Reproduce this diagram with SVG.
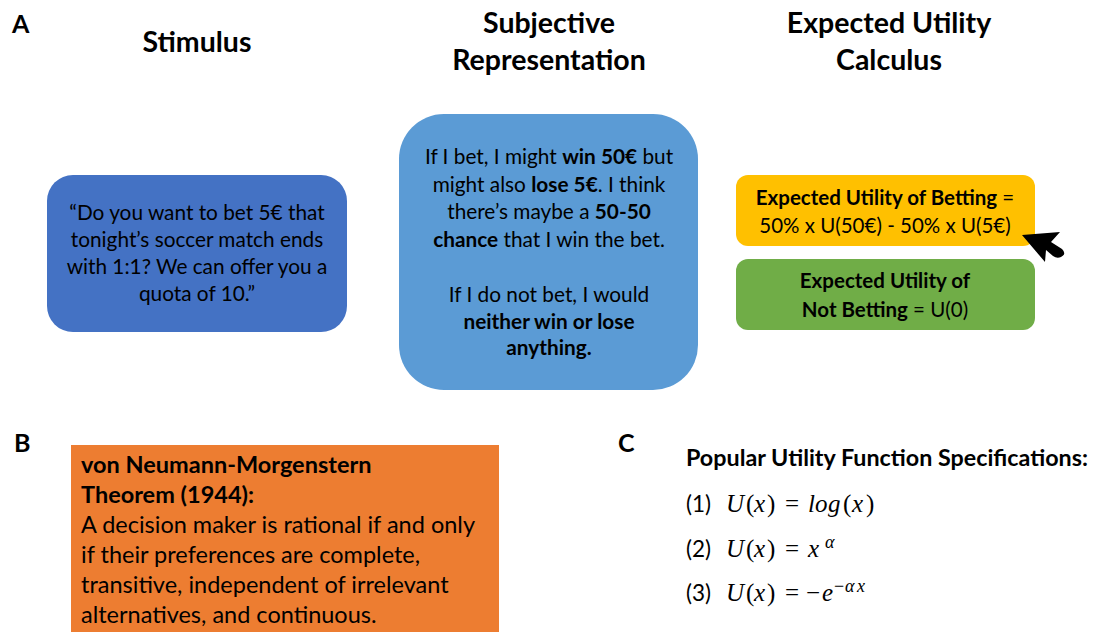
<svg xmlns="http://www.w3.org/2000/svg" width="1096" height="632" viewBox="0 0 1096 632">
<style>
.t{font-family:Lato,"Open Sans","Liberation Sans",sans-serif;fill:#000}
.h{font-weight:bold;font-size:28.5px;text-anchor:middle}
.lbl{font-weight:bold;font-size:25px}
.c{text-anchor:middle}
.b{font-weight:bold}
.box{font-size:20.8px}
.sm{font-size:20.5px}
.or{font-size:23.5px}
.num{font-size:22.5px}
.m{font-family:"Liberation Serif","DejaVu Serif",serif;font-size:25px;fill:#000}
.sup{font-size:18px}
.i{font-style:italic}
</style>
<rect width="1096" height="632" fill="#fff"/>
<g id="headers">
<text class="t lbl" x="12" y="33">A</text>
<text class="t h" x="197" y="52">Stimulus</text>
<text class="t h" x="549" y="33">Subjective</text>
<text class="t h" x="549" y="70">Representation</text>
<text class="t h" x="889" y="33">Expected Utility</text>
<text class="t h" x="889" y="70">Calculus</text>
</g>
<g id="stimulus">
<rect x="47" y="175" width="300" height="157" rx="26" fill="#4472C4"/>
<text class="t box c" x="197" y="220">“Do you want to bet 5€ that</text>
<text class="t box c" x="197" y="247">tonight’s soccer match ends</text>
<text class="t box c" x="197" y="274">with 1:1? We can offer you a</text>
<text class="t box c" x="197" y="301">quota of 10.”</text>
</g>
<g id="subjective">
<rect x="399" y="114" width="299" height="276" rx="45" fill="#5B9BD5"/>
<text class="t box c" x="549" y="164">If I bet, I might <tspan class="b">win 50€</tspan> but</text>
<text class="t box c" x="549" y="192">might also <tspan class="b">lose 5€</tspan>. I think</text>
<text class="t box c" x="549" y="219">there’s maybe a <tspan class="b">50-50</tspan></text>
<text class="t box c" x="549" y="247"><tspan class="b">chance</tspan> that I win the bet.</text>
<text class="t box c" x="549" y="302">If I do not bet, I would</text>
<text class="t box c b" x="549" y="329">neither win or lose</text>
<text class="t box c b" x="549" y="355">anything.</text>
</g>
<g id="eu-betting">
<rect x="736" y="175" width="299" height="71" rx="12" fill="#FFC000"/>
<text class="t sm c" x="885" y="205"><tspan class="b">Expected Utility of Betting</tspan> =</text>
<text class="t sm c" x="885" y="233">50% x U(50€) - 50% x U(5€)</text>
</g>
<g id="eu-not-betting">
<rect x="736" y="259" width="299" height="71" rx="12" fill="#70AD47"/>
<text class="t sm c b" x="885" y="288">Expected Utility of</text>
<text class="t sm c" x="885" y="317"><tspan class="b">Not Betting</tspan> = U(0)</text>
</g>
<g id="connectors">
<path d="M1022,235 L1060,232 L1051,242 L1062,249 Q1067,254 1061,257 Q1057,259 1053,256 L1046,250 L1045,262 Z" fill="#000"/>
</g>
<g id="theorem">
<text class="t lbl" x="14" y="452">B</text>
<rect x="71" y="445" width="428" height="187" fill="#ED7D31"/>
<text class="t or b" x="81" y="473">von Neumann-Morgenstern</text>
<text class="t or b" x="81" y="503">Theorem (1944):</text>
<text class="t or" x="81" y="533">A decision maker is rational if and only</text>
<text class="t or" x="81" y="563">if their preferences are complete,</text>
<text class="t or" x="81" y="593">transitive, independent of irrelevant</text>
<text class="t or" x="81" y="623">alternatives, and continuous.</text>
</g>
<g id="specifications">
<text class="t lbl" x="618" y="452">C</text>
<text class="t b" x="686" y="466" style="font-size:23.3px">Popular Utility Function Specifications:</text>
<text class="t num" x="686" y="512">(1)</text>
<text class="m" y="512"><tspan class="i" x="726">U</tspan><tspan x="746">(</tspan><tspan class="i" x="754">x</tspan><tspan x="767">)</tspan><tspan x="785">=</tspan><tspan class="i" x="808">l</tspan><tspan class="i" x="815">o</tspan><tspan class="i" x="828">g</tspan><tspan x="843">(</tspan><tspan class="i" x="852">x</tspan><tspan x="866">)</tspan></text>
<text class="t num" x="686" y="557">(2)</text>
<text class="m" y="557"><tspan class="i" x="726">U</tspan><tspan x="746">(</tspan><tspan class="i" x="754">x</tspan><tspan x="767">)</tspan><tspan x="785">=</tspan><tspan class="i" x="808">x</tspan></text>
<text class="m sup i" x="825" y="548">α</text>
<text class="t num" x="686" y="601">(3)</text>
<text class="m" y="601"><tspan class="i" x="726">U</tspan><tspan x="746">(</tspan><tspan class="i" x="754">x</tspan><tspan x="767">)</tspan><tspan x="785">=</tspan><tspan x="806">−</tspan><tspan class="i" x="822">e</tspan></text>
<text class="m sup" y="592"><tspan x="834">−</tspan><tspan class="i" x="845">α</tspan><tspan class="i" x="857">x</tspan></text>
</g>
</svg>
